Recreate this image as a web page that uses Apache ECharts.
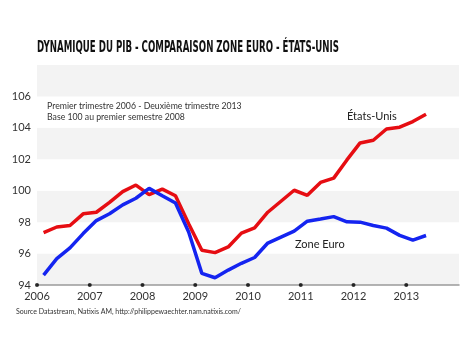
<!DOCTYPE html>
<html><head><meta charset="utf-8">
<script src="https://cdn.jsdelivr.net/npm/echarts@6/dist/echarts.min.js"></script>
<style>html,body{margin:0;padding:0;background:#fff}#c{width:474px;height:355px}</style>
</head><body><div id="c"></div>
<script>
const quarters = ['2006T1','2006T2','2006T3','2006T4','2007T1','2007T2','2007T3','2007T4','2008T1','2008T2','2008T3','2008T4','2009T1','2009T2','2009T3','2009T4','2010T1','2010T2','2010T3','2010T4','2011T1','2011T2','2011T3','2011T4','2012T1','2012T2','2012T3','2012T4','2013T1','2013T2'];
const etatsUnis = [97.33,97.69,97.79,98.53,98.63,99.26,99.94,100.36,99.75,100.1,99.68,97.9,96.21,96.06,96.42,97.3,97.64,98.63,99.33,100.03,99.71,100.53,100.8,101.96,103.04,103.21,103.93,104.04,104.4,104.87];
const zoneEuro = [94.63,95.68,96.36,97.27,98.1,98.53,99.1,99.52,100.15,99.68,99.22,97.37,94.74,94.46,94.95,95.38,95.75,96.67,97.05,97.43,98.06,98.2,98.35,98.02,98.0,97.79,97.62,97.16,96.86,97.15];
const yearTicks = [2006,2007,2008,2009,2010,2011,2012,2013];
const titleText = 'DYNAMIQUE DU PIB - COMPARAISON ZONE EURO - ÉTATS-UNIS';
const subtitle1 = 'Premier trimestre 2006 - Deuxième trimestre 2013';
const subtitle2 = 'Base 100 au premier semestre 2008';
const sourceText = 'Source Datastream, Natixis AM, http://philippewaechter.nam.natixis.com/';

function qx(q){ const y = parseInt(q.slice(0,4)); const n = parseInt(q.slice(5)); return y + (n-1)*0.25 + 0.125; }

const chart = echarts.init(document.getElementById('c'));
chart.setOption({
  animation:false,
  backgroundColor:'#fff',
  grid:{left:37,right:15,top:65,bottom:70},
  xAxis:{type:'value',min:2006,max:2014,interval:1,
    axisLine:{show:true,lineStyle:{color:'#9a9a9a',width:1.5}},
    axisTick:{show:false},splitLine:{show:false},
    axisLabel:{showMaxLabel:false,color:'#333',fontFamily:'Lato',fontSize:11,margin:6,formatter:v=>String(v)}},
  yAxis:{type:'value',min:94,max:108,interval:2,
    axisLine:{show:false},axisTick:{show:false},splitLine:{show:false},
    splitArea:{show:true,areaStyle:{color:['#f3f3f3','#ffffff']}},
    axisLabel:{showMaxLabel:false,color:'#333',fontFamily:'Lato',fontSize:11,margin:6}},
  series:[
    {name:'États-Unis',type:'line',data:quarters.map((q,i)=>[qx(q),etatsUnis[i]]),showSymbol:false,
      lineStyle:{color:'#e60d12',width:3.5},itemStyle:{color:'#e60d12'},z:3},
    {name:'Zone Euro',type:'line',data:quarters.map((q,i)=>[qx(q),zoneEuro[i]]),showSymbol:false,
      lineStyle:{color:'#1424f0',width:3.5},itemStyle:{color:'#1424f0'},z:4},
    {type:'scatter',data:yearTicks.map(y=>[y,94]),symbolSize:4,itemStyle:{color:'#000'},clip:false,silent:true,z:5}
  ],
  graphic:[
    {type:'text',z:100,x:37,y:48,scaleX:0.6,style:{text:titleText,fontFamily:'Liberation Sans Narrow, DejaVu Sans Condensed',fontWeight:'bold',fontSize:16,fill:'#111',textVerticalAlign:'middle'}},
    {type:'text',z:100,x:47,y:106,scaleX:0.87,style:{text:subtitle1,fontFamily:'Lato',fontSize:10,fill:'#333',textVerticalAlign:'middle'}},
    {type:'text',z:100,x:47,y:117,scaleX:0.87,style:{text:subtitle2,fontFamily:'Lato',fontSize:10,fill:'#333',textVerticalAlign:'middle'}},
    {type:'text',z:100,x:347,y:116,style:{text:'États-Unis',fontFamily:'Lato',fontSize:11,fill:'#222',textVerticalAlign:'middle'}},
    {type:'text',z:100,x:295,y:244,style:{text:'Zone Euro',fontFamily:'Lato',fontSize:11,fill:'#222',textVerticalAlign:'middle'}},
    {type:'text',z:100,x:16,y:312,style:{text:sourceText,fontFamily:'Lato',fontSize:7,fill:'#333',textVerticalAlign:'middle'}}
  ]
});
</script></body></html>
